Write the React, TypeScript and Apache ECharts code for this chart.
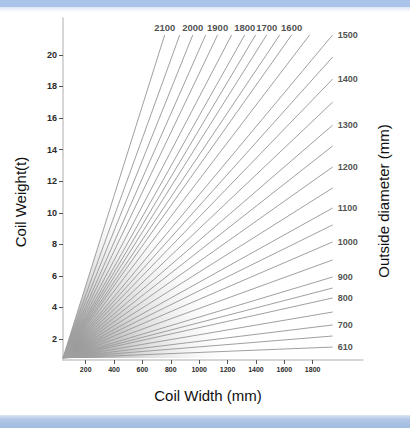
import React, { useEffect, useRef } from 'react';
import * as echarts from 'echarts';

// Outside diameters (mm) of the fan lines, and where each line ends (coil width mm, coil weight t)
const DIAMETERS = [2100, 2050, 2000, 1950, 1900, 1850, 1800, 1750, 1700, 1650, 1600, 1550, 1500, 1450, 1400, 1350, 1300, 1250, 1200, 1150, 1100, 1050, 1000, 950, 900, 850, 800, 750, 700, 650, 610];
const END_WIDTH = [757, 863, 955, 1046, 1130, 1229, 1321, 1398, 1476, 1568, 1652, 1779, 1941, 1941, 1941, 1941, 1941, 1941, 1941, 1941, 1941, 1941, 1941, 1941, 1941, 1941, 1941, 1941, 1941, 1941, 1941];
const END_WEIGHT = [21.27, 21.27, 21.27, 21.27, 21.27, 21.27, 21.27, 21.27, 21.27, 21.27, 21.27, 21.27, 21.27, 19.87, 18.47, 17.01, 15.55, 14.23, 12.9, 11.57, 10.3, 9.23, 8.15, 7.01, 5.93, 5.23, 4.6, 3.71, 2.89, 2.19, 1.49];
const ORIGIN_WIDTH = 40;
const ORIGIN_WEIGHT = 0.8;

const TOP_LABELS = [2100, 2000, 1900, 1800, 1700, 1600];
const RIGHT_LABELS = [1500, 1400, 1300, 1200, 1100, 1000, 900, 800, 700, 610];

const X_TICKS = [200, 400, 600, 800, 1000, 1200, 1400, 1600, 1800];
const Y_TICKS = [2, 4, 6, 8, 10, 12, 14, 16, 18, 20];
const X_MIN = 40;
const X_MAX = 2155;
const Y_MIN = 0.67;
const Y_MAX = 22.34;

const FONT = '"Liberation Sans", Arial, sans-serif';

export default function App() {
  const ref = useRef<HTMLDivElement>(null);

  useEffect(() => {
    if (!ref.current) return;
    const chart = echarts.init(ref.current, undefined, { renderer: 'svg' });

    const endOf = (d: number) => {
      const i = DIAMETERS.indexOf(d);
      return [END_WIDTH[i], END_WEIGHT[i], d];
    };

    const lineSeries = DIAMETERS.map((d, i) => ({
      type: 'line',
      name: String(d),
      data: [
        [ORIGIN_WIDTH, ORIGIN_WEIGHT],
        [END_WIDTH[i], END_WEIGHT[i]],
      ],
      symbol: 'none',
      silent: true,
      z: 3,
      lineStyle: { color: '#a0a0a0', width: 1 },
    }));

    const steepest = 0;

    const option: any = {
      animation: false,
      backgroundColor: '#ffffff',
      grid: { left: 63, right: 47, top: 18, bottom: 68 },
      xAxis: {
        type: 'value',
        min: X_MIN,
        max: X_MAX,
        splitLine: { show: false },
        axisLine: { show: true, onZero: false, lineStyle: { color: '#c9c9c9', width: 1.5 } },
        axisTick: { show: true, customValues: X_TICKS, length: 4, lineStyle: { color: '#555' } },
        axisLabel: {
          customValues: X_TICKS,
          formatter: (v: number) => String(v),
          fontSize: 7,
          fontWeight: 'bold',
          fontFamily: FONT,
          color: '#2a2a2a',
          margin: 6,
        },
      },
      yAxis: {
        type: 'value',
        min: Y_MIN,
        max: Y_MAX,
        splitLine: { show: false },
        axisLine: { show: true, onZero: false, lineStyle: { color: '#c9c9c9', width: 1.5 } },
        axisTick: { show: true, customValues: Y_TICKS, length: 4, lineStyle: { color: '#555' } },
        axisLabel: {
          customValues: Y_TICKS,
          formatter: (v: number) => String(v),
          fontSize: 9,
          fontWeight: 'bold',
          fontFamily: FONT,
          color: '#2a2a2a',
          margin: 6,
        },
      },
      graphic: [
        { type: 'rect', shape: { x: 0, y: 0, width: 410, height: 7 }, style: { fill: '#a9c4e8' } },
        {
          type: 'rect',
          shape: { x: 0, y: 7, width: 410, height: 5 },
          style: {
            fill: new echarts.graphic.LinearGradient(0, 0, 0, 1, [
              { offset: 0, color: '#dce7f6' },
              { offset: 1, color: '#ffffff' },
            ]),
          },
        },
        {
          type: 'rect',
          shape: { x: 0, y: 415, width: 410, height: 13 },
          style: {
            fill: new echarts.graphic.LinearGradient(0, 0, 0, 1, [
              { offset: 0, color: '#dde6f4' },
              { offset: 0.3, color: '#b4c8e6' },
              { offset: 1, color: '#a2bbe0' },
            ]),
          },
        },
        {
          type: 'text',
          x: 20,
          y: 202,
          rotation: Math.PI / 2,
          style: {
            text: 'Coil Weight(t)',
            fontSize: 15,
            fontFamily: FONT,
            fill: '#111',
            align: 'center',
            verticalAlign: 'middle',
          },
        },
        {
          type: 'text',
          x: 208,
          y: 395,
          style: {
            text: 'Coil Width (mm)',
            fontSize: 15,
            fontFamily: FONT,
            fill: '#111',
            align: 'center',
            verticalAlign: 'middle',
          },
        },
        {
          type: 'text',
          x: 383,
          y: 201,
          rotation: Math.PI / 2,
          style: {
            text: 'Outside diameter (mm)',
            fontSize: 15,
            fontFamily: FONT,
            fill: '#111',
            align: 'center',
            verticalAlign: 'middle',
          },
        },
      ],
      series: [
        {
          type: 'custom',
          silent: true,
          z: 1,
          data: [[ORIGIN_WIDTH, ORIGIN_WEIGHT, END_WIDTH[steepest], END_WEIGHT[steepest]]],
          renderItem: (params: any, api: any) => {
            const o = api.coord([api.value(0), api.value(1)]);
            const e = api.coord([api.value(2), api.value(3)]);
            const ang = Math.atan2(e[1] - o[1], e[0] - o[0]);
            const r = 170;
            return {
              type: 'sector',
              shape: { cx: o[0], cy: o[1], r0: 0, r, startAngle: ang, endAngle: 0, clockwise: true },
              style: {
                fill: {
                  type: 'radial',
                  x: o[0],
                  y: o[1],
                  r,
                  global: true,
                  colorStops: [
                    { offset: 0, color: 'rgba(110,110,110,1)' },
                    { offset: 0.2, color: 'rgba(150,150,150,0.8)' },
                    { offset: 0.5, color: 'rgba(190,190,190,0.5)' },
                    { offset: 0.8, color: 'rgba(220,220,220,0.2)' },
                    { offset: 1, color: 'rgba(240,240,240,0)' },
                  ],
                },
              },
            };
          },
        },
        ...lineSeries,
        {
          type: 'scatter',
          silent: true,
          symbolSize: 0,
          z: 4,
          data: TOP_LABELS.map(endOf),
          label: {
            show: true,
            position: 'top',
            distance: 2,
            formatter: (p: any) => String(p.value[2]),
            fontSize: 9.5,
            fontWeight: 'bold',
            fontFamily: FONT,
            color: '#222',
          },
        },
        {
          type: 'scatter',
          silent: true,
          symbolSize: 0,
          z: 4,
          data: RIGHT_LABELS.map(endOf),
          label: {
            show: true,
            position: 'right',
            distance: 5,
            formatter: (p: any) => String(p.value[2]),
            fontSize: 9,
            fontWeight: 'bold',
            fontFamily: FONT,
            color: '#222',
          },
        },
      ],
    };

    chart.setOption(option);
    return () => chart.dispose();
  }, []);

  return (
    <div
      ref={ref}
      style={{ position: 'absolute', left: 0, top: 0, width: 410, height: 428 }}
    />
  );
}
